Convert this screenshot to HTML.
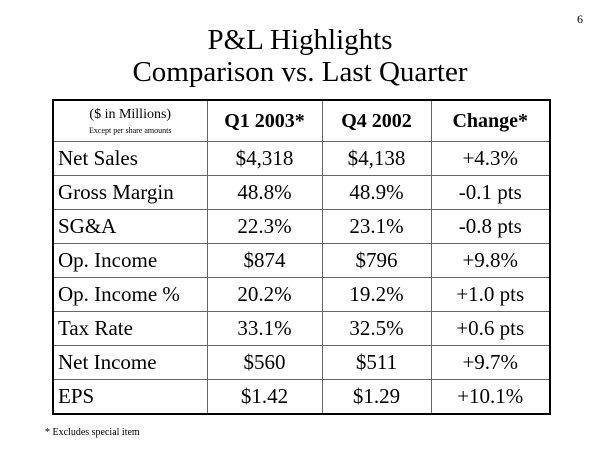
<!DOCTYPE html>
<html><head><style>
body{margin:0;width:600px;height:450px;background:#fff;position:relative;font-family:"Liberation Serif",serif;color:#000;overflow:hidden}
.t{position:absolute;left:0;width:600px;text-align:center;font-size:29px;line-height:32px}
table{position:absolute;left:52px;top:99px;width:497px;height:313px;border-collapse:collapse;border:2px solid #000;table-layout:fixed}
td{border:1px solid #666;font-size:21px;text-align:center;padding:0;height:33px}
td.l{text-align:left;padding-left:4px}
tr.h td{height:40px;font-weight:bold;font-size:20px}
</style></head><body>
<div style="position:absolute;left:577px;top:12px;font-size:12px">6</div>
<div class="t" style="top:24px">P&amp;L Highlights</div>
<div class="t" style="top:56px">Comparison vs. Last Quarter</div>
<table>
<colgroup><col style="width:154px"><col style="width:115px"><col style="width:109px"><col style="width:119px"></colgroup>
<tr class="h"><td style="font-weight:normal;line-height:13px"><span style="font-size:14px">($ in Millions)</span><br><span style="font-size:8px">Except per share amounts</span></td><td>Q1 2003*</td><td>Q4 2002</td><td>Change*</td></tr>
<tr><td class="l">Net Sales</td><td>$4,318</td><td>$4,138</td><td>+4.3%</td></tr>
<tr><td class="l">Gross Margin</td><td>48.8%</td><td>48.9%</td><td>-0.1 pts</td></tr>
<tr><td class="l">SG&amp;A</td><td>22.3%</td><td>23.1%</td><td>-0.8 pts</td></tr>
<tr><td class="l">Op. Income</td><td>$874</td><td>$796</td><td>+9.8%</td></tr>
<tr><td class="l">Op. Income %</td><td>20.2%</td><td>19.2%</td><td>+1.0 pts</td></tr>
<tr><td class="l">Tax Rate</td><td>33.1%</td><td>32.5%</td><td>+0.6 pts</td></tr>
<tr><td class="l">Net Income</td><td>$560</td><td>$511</td><td>+9.7%</td></tr>
<tr><td class="l">EPS</td><td>$1.42</td><td>$1.29</td><td>+10.1%</td></tr>
</table>
<div style="position:absolute;left:45px;top:427px;font-size:10px">* Excludes special item</div>
</body></html>
